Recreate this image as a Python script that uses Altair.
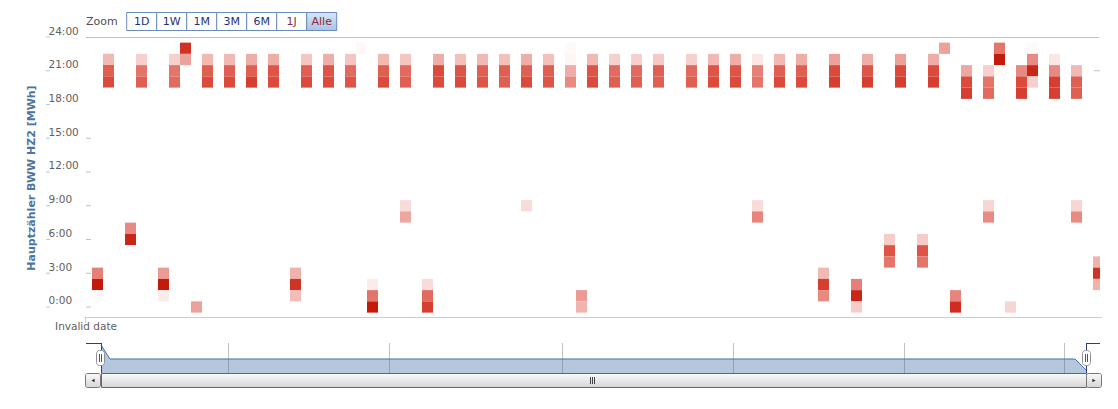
import altair as alt
import pandas as pd

# ---------------- data (day index, hour of day, intensity) ----------------
days = [-1, -1, -1, 0, 0, 0, 2, 2, 2, 3, 3, 3, 5, 5, 5, 6, 6, 6, 7, 7, 8,
        9, 9, 9, 11, 11, 11, 13, 13, 13, 15, 15, 15, 17, 17, 17, 18, 18, 18,
        20, 20, 20, 22, 22, 22, 23, 24, 24, 24, 25, 25, 25,
        27, 27, 27, 27, 27, 29, 29, 29, 30, 30, 30, 32, 32, 32, 34, 34, 34,
        36, 36, 36, 38, 38, 38, 38, 40, 40, 40, 42, 42, 42, 42, 43, 43,
        44, 44, 44, 46, 46, 46, 48, 48, 48, 50, 50, 50, 53, 53, 53,
        55, 55, 55, 57, 57, 57, 59, 59, 59, 59, 59, 61, 61, 61, 63, 63, 63,
        65, 65, 65, 66, 66, 66, 68, 68, 68, 69, 69, 69, 71, 71, 71,
        72, 72, 72, 74, 74, 74, 75, 75, 75, 76, 77, 77, 78, 78, 78,
        80, 80, 80, 80, 80, 81, 81, 81, 82, 83, 83, 83, 84, 84, 84, 84,
        86, 86, 86, 86, 88, 88, 88, 88, 88, 90, 90, 90]
hours = [3, 2, 1, 22, 21, 20, 7, 6, 5, 22, 21, 20, 3, 2, 1, 22, 21, 20, 23, 22, 0,
         22, 21, 20, 22, 21, 20, 22, 21, 20, 22, 21, 20, 3, 2, 1, 22, 21, 20,
         22, 21, 20, 22, 21, 20, 23, 2, 1, 0, 22, 21, 20,
         22, 21, 20, 9, 8, 2, 1, 0, 22, 21, 20, 22, 21, 20, 22, 21, 20,
         22, 21, 20, 22, 21, 20, 9, 22, 21, 20, 23, 22, 21, 20, 1, 0,
         22, 21, 20, 22, 21, 20, 22, 21, 20, 22, 21, 20, 22, 21, 20,
         22, 21, 20, 22, 21, 20, 22, 21, 20, 9, 8, 22, 21, 20, 22, 21, 20,
         3, 2, 1, 22, 21, 20, 2, 1, 0, 22, 21, 20, 6, 5, 4,
         22, 21, 20, 6, 5, 4, 22, 21, 20, 23, 1, 0, 21, 20, 19,
         21, 20, 19, 9, 8, 23, 22, 21, 0, 21, 20, 19, 23, 22, 21, 20,
         22, 21, 20, 19, 21, 20, 19, 9, 8, 4, 3, 2]
values = [5.5, 10, 0.2, 3, 7, 8, 5, 9.5, 0.1, 2, 6, 7, 4.3, 10, 0.8, 2, 6, 6.5, 9, 4, 4,
          3, 7, 8, 3, 7, 8, 3.5, 7, 8.5, 3.5, 7.5, 8, 3.3, 9, 2.8, 2.5, 7, 8,
          3.5, 7.5, 8, 2.5, 6.5, 7.5, 0.3, 0.8, 6, 10, 3, 7, 8,
          2.5, 6.5, 7, 1.5, 3.8, 1.5, 6.5, 8.5, 3.5, 8, 8, 2.7, 7.5, 8, 3, 7, 7.5,
          2.7, 7, 7, 3.5, 7, 8, 1.5, 2.7, 7, 7.5, 0.2, 0.4, 3.5, 5, 4.3, 3.2,
          3, 7.5, 8, 2, 6.5, 7, 2, 6.5, 7, 2.3, 7, 7, 2, 6.5, 7,
          3, 7.5, 8, 3.5, 7.5, 8, 1, 5.5, 6, 1.5, 5.3, 3, 7, 8, 3.5, 7, 8,
          3, 8.5, 5, 4, 8, 8.5, 5.5, 9.5, 2.2, 3.5, 7.5, 8.5, 2.2, 7.5, 6,
          4, 8, 8.5, 2.2, 7.5, 6, 3.5, 8, 8.5, 4, 5.3, 9.2, 3.8, 8, 8.5,
          2, 6, 6.5, 1.8, 5, 6, 10, 0.2, 1.8, 5, 8, 8.5, 0.2, 5, 9.5, 2,
          1, 5, 8.5, 8.5, 3, 7, 7, 1.8, 5, 3.3, 9, 3.3]

tick_hours = [0, 3, 6, 9, 12, 15, 18, 21, 24]
inner_tick_hours = [0, 3, 6, 9, 12, 15]
right_tick_hours = [21]
buttons = ["1D", "1W", "1M", "3M", "6M", "1J", "Alle"]
nav_grid_px = [141, 302, 475, 646, 817, 977]
nav_px = [14, 23, 988, 999]
nav_py = [308, 322, 322, 333]
nav_base = [336, 336, 336, 336]

W, H = 1013, 280
FONT = "DejaVu Sans"

df = pd.DataFrame({"day": days, "hour": hours, "value": values})
xs = alt.Scale(domain=[-1.955, 90.136], nice=False, zero=False)
ys = alt.Scale(domain=[-0.889, 24], nice=False, zero=False)

heat = alt.Chart(df).transform_calculate(
    x0="datum.day - 0.5", x1="datum.day + 0.5",
    y0="datum.hour - 0.5", y1="datum.hour + 0.5",
).mark_rect(clip=True, strokeWidth=0).encode(
    x=alt.X("x0:Q", scale=xs, axis=None),
    x2="x1:Q",
    y=alt.Y("y0:Q", scale=ys, axis=alt.Axis(
        values=tick_hours, labelExpr="datum.value + ':00'", ticks=False, tickSize=0,
        domain=False, grid=False, labelAlign="left", labelPadding=39, labelOffset=-6,
        labelColor="#606060", labelFont=FONT, labelFontSize=10.5, labelFlush=False,
        labelOverlap=False, title=None)),
    y2="y1:Q",
    color=alt.Color("value:Q", legend=None, scale=alt.Scale(
        domain=[0, 5, 8, 10], range=["#ffffff", "#e88a82", "#dc4a3c", "#c41a0c"],
        interpolate="rgb")),
)

tdf = pd.DataFrame({"y0": tick_hours})
ticks_left = alt.Chart(tdf).mark_rule(color="#b8c8dc").encode(
    y=alt.Y("y0:Q", scale=ys, axis=None), x=alt.value(-41), x2=alt.value(-37))
ticks_inner = alt.Chart(pd.DataFrame({"y0": inner_tick_hours})).mark_rule(color="#c0c0c0").encode(
    y=alt.Y("y0:Q", scale=ys, axis=None), x=alt.value(-1), x2=alt.value(4))
ticks_right = alt.Chart(pd.DataFrame({"y0": right_tick_hours})).mark_rule(color="#c0c0c0").encode(
    y=alt.Y("y0:Q", scale=ys, axis=None), x=alt.value(1007), x2=alt.value(1013))

one = pd.DataFrame({"a": [0]})


def rule(x, y, x2, y2, color, sw=1):
    return alt.Chart(one).mark_rule(color=color, strokeWidth=sw).encode(
        x=alt.value(x), y=alt.value(y), x2=alt.value(x2), y2=alt.value(y2))


def text(t, x, y, color="#606060", size=10.5, weight="normal", align="left", angle=0):
    kw = dict(text=t, color=color, fontSize=size, font=FONT, fontWeight=weight,
              align=align, baseline="middle")
    if angle:
        kw["angle"] = angle
    return alt.Chart(one).mark_text(**kw).encode(x=alt.value(x), y=alt.value(y))


deco = []
# top line and x-axis
deco.append(rule(-1, 0.5, 1012, 0.5, "#c0c0c0"))
deco.append(rule(-2, 280.5, 1015, 280.5, "#c0d0e0"))
deco.append(rule(-1.5, 280, -1.5, 286, "#c0d0e0"))
deco.append(text("Invalid date", -1, 290, align="center"))
# y title
deco.append(text("Hauptzähler BWW HZ2 [MWh]", -55, 141, color="#4d759e", size=11,
                 weight="bold", align="center", angle=270))
# range selector
deco.append(text("Zoom", -1, -15, color="#505050", size=11))
blue_grad = {"gradient": "linear", "x1": 0, "y1": 0, "x2": 0, "y2": 1,
             "stops": [{"offset": 0, "color": "#d8e6f6"}, {"offset": 1, "color": "#a9c3e6"}]}
for i, b in enumerate(buttons):
    x0 = 39.7 + 30 * i
    fill = blue_grad if b == "Alle" else "#ffffff"
    deco.append(alt.Chart(one).mark_rect(fill=fill, stroke="#6a8cbc", strokeWidth=1).encode(
        x=alt.value(x0), x2=alt.value(x0 + 30), y=alt.value(-24.5), y2=alt.value(-6.5)))
    col = "#8a2a3a" if b in ("1J", "Alle") else "#1f2f80"
    deco.append(text(b, x0 + 15, -15, color=col, size=11, align="center"))

# navigator
for gx in nav_grid_px:
    deco.append(rule(gx + 0.5, 306, gx + 0.5, 336, "#c0c0c0"))

navdf = pd.DataFrame({"px": nav_px, "py": nav_py, "pb": nav_base})
nx = alt.Scale(domain=[0, W], nice=False, zero=False)
ny = alt.Scale(domain=[H, 0], nice=False, zero=False)
nav_area = alt.Chart(navdf).mark_area(color="#4572a7", opacity=0.4).encode(
    x=alt.X("px:Q", scale=nx, axis=None), y=alt.Y("py:Q", scale=ny, axis=None),
    y2=alt.Y2("pb:Q"))
nav_line = alt.Chart(navdf).mark_line(color="#4572a7", strokeWidth=1).encode(
    x=alt.X("px:Q", scale=nx, axis=None), y=alt.Y("py:Q", scale=ny, axis=None))

nav_deco = []
navy = "#2e3c80"
nav_deco.append(rule(-1, 306.5, 14.5, 306.5, navy))
nav_deco.append(rule(14.5, 306, 14.5, 336, navy))
nav_deco.append(rule(999.5, 306.5, 1013, 306.5, navy))
nav_deco.append(rule(999.5, 306, 999.5, 336, navy))
gray_grad = {"gradient": "linear", "x1": 0, "y1": 0, "x2": 0, "y2": 1,
             "stops": [{"offset": 0, "color": "#fafafa"}, {"offset": 1, "color": "#d6d6d6"}]}
# scrollbar
nav_deco.append(alt.Chart(one).mark_rect(fill=gray_grad, stroke="#666666", strokeWidth=1).encode(
    x=alt.value(14.5), x2=alt.value(999.5), y=alt.value(336.5), y2=alt.value(350.5)))
for bx in (-1.5, 999.5):
    nav_deco.append(alt.Chart(one).mark_rect(fill=gray_grad, stroke="#777777", strokeWidth=1,
                                             cornerRadius=2).encode(
        x=alt.value(bx), x2=alt.value(bx + 15), y=alt.value(336.5), y2=alt.value(350.5)))
nav_deco.append(alt.Chart(one).mark_point(shape="triangle-left", filled=True, color="#333333",
                                          size=14, opacity=1).encode(
    x=alt.value(6), y=alt.value(343.5)))
nav_deco.append(alt.Chart(one).mark_point(shape="triangle-right", filled=True, color="#333333",
                                          size=14, opacity=1).encode(
    x=alt.value(1007), y=alt.value(343.5)))
for gx in (503.5, 505.5, 507.5):
    nav_deco.append(rule(gx, 340, gx, 347, "#444444"))
# handles
for hx in (9.5, 995.5):
    nav_deco.append(alt.Chart(one).mark_rect(fill="#ffffff", stroke="#909090", strokeWidth=1,
                                             cornerRadius=3).encode(
        x=alt.value(hx), x2=alt.value(hx + 8), y=alt.value(313.5), y2=alt.value(328.5)))
    nav_deco.append(rule(hx + 3, 317, hx + 3, 325, "#555555"))
    nav_deco.append(rule(hx + 5, 317, hx + 5, 325, "#555555"))

chart = alt.layer(
    heat, ticks_left, ticks_inner, ticks_right, *deco,
    nav_area, nav_line, *nav_deco,
).resolve_scale(x="independent", y="independent").properties(
    width=W, height=H,
    autosize=alt.AutoSizeParams(type="none"),
    padding={"left": 79, "top": 29, "right": 10, "bottom": 75},
).configure_view(stroke="transparent")

chart.save("out.html", embed_options={"renderer": "svg", "actions": False})
